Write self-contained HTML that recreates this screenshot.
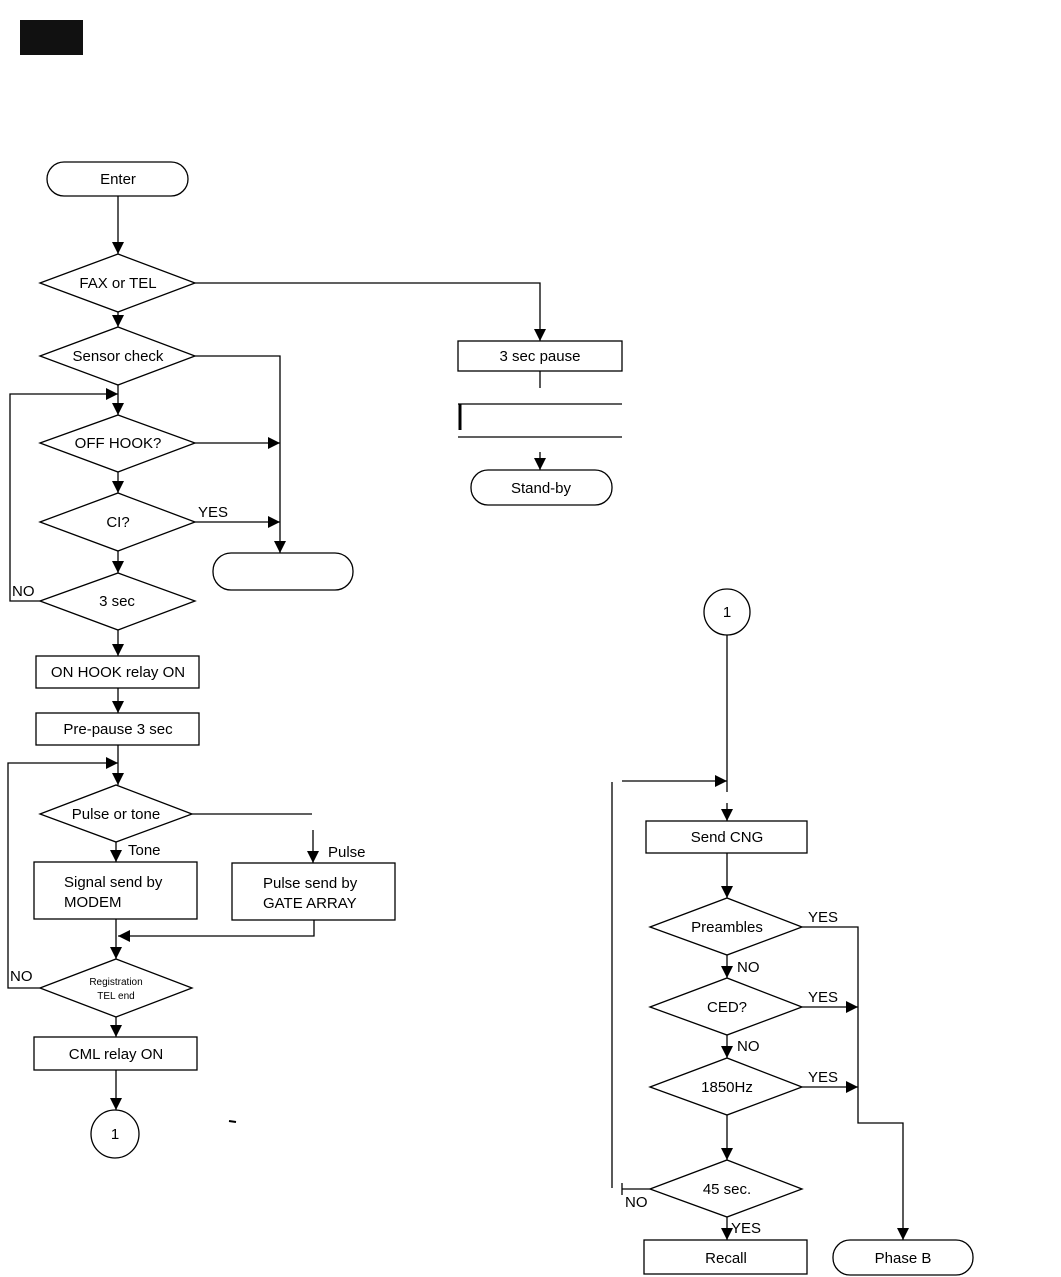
<!DOCTYPE html>
<html><head><meta charset="utf-8"><style>
html,body{margin:0;padding:0;background:#fff;}
svg{display:block;}
text{font-family:"Liberation Sans",Arial,sans-serif;font-size:15px;fill:#000;}
</style></head><body>
<svg width="1061" height="1277" viewBox="0 0 1061 1277" xmlns="http://www.w3.org/2000/svg">
<defs><marker id="a" markerWidth="12" markerHeight="12" refX="12" refY="6" orient="auto" markerUnits="userSpaceOnUse"><path d="M0,0 L12,6 L0,12 z" fill="#000"/></marker></defs>
<g stroke="#000" stroke-width="1.3" fill="none">
<rect x="20" y="20" width="63" height="35" fill="#111" stroke="none"/>
<rect x="47" y="162" width="141" height="34" rx="17"/>
<line x1="118" y1="196" x2="118" y2="254" marker-end="url(#a)"/>
<polygon points="40,283 118,254 195,283 118,312"/>
<polyline points="195,283 540,283 540,341" marker-end="url(#a)"/>
<rect x="458" y="341" width="164" height="30"/>
<line x1="540" y1="371" x2="540" y2="388"/>
<line x1="458" y1="404" x2="622" y2="404"/>
<line x1="458" y1="437" x2="622" y2="437"/>
<line x1="460" y1="404" x2="460" y2="430" stroke-width="3"/>
<line x1="540" y1="452" x2="540" y2="470" marker-end="url(#a)"/>
<rect x="471" y="470" width="141" height="35" rx="17"/>
<line x1="118" y1="312" x2="118" y2="327" marker-end="url(#a)"/>
<polygon points="40,356 118,327 195,356 118,385"/>
<polyline points="195,356 280,356 280,553" marker-end="url(#a)"/>
<rect x="213" y="553" width="140" height="37" rx="18"/>
<line x1="118" y1="385" x2="118" y2="415" marker-end="url(#a)"/>
<polyline points="40,601 10,601 10,394 118,394" marker-end="url(#a)"/>
<polygon points="40,443 118,415 195,443 118,472"/>
<line x1="195" y1="443" x2="280" y2="443" marker-end="url(#a)"/>
<line x1="118" y1="472" x2="118" y2="493" marker-end="url(#a)"/>
<polygon points="40,522 118,493 195,522 118,551"/>
<line x1="195" y1="522" x2="280" y2="522" marker-end="url(#a)"/>
<line x1="118" y1="551" x2="118" y2="573" marker-end="url(#a)"/>
<polygon points="40,601 118,573 195,601 118,630"/>
<line x1="118" y1="630" x2="118" y2="656" marker-end="url(#a)"/>
<rect x="36" y="656" width="163" height="32"/>
<line x1="118" y1="688" x2="118" y2="713" marker-end="url(#a)"/>
<rect x="36" y="713" width="163" height="32"/>
<line x1="118" y1="745" x2="118" y2="785" marker-end="url(#a)"/>
<polyline points="40,988 8,988 8,763 118,763" marker-end="url(#a)"/>
<polygon points="40,814 116,785 192,814 116,842"/>
<line x1="192" y1="814" x2="312" y2="814"/>
<line x1="313" y1="830" x2="313" y2="863" marker-end="url(#a)"/>
<line x1="116" y1="842" x2="116" y2="862" marker-end="url(#a)"/>
<rect x="34" y="862" width="163" height="57"/>
<rect x="232" y="863" width="163" height="57"/>
<polyline points="314,920 314,936 118,936" marker-end="url(#a)"/>
<line x1="116" y1="919" x2="116" y2="959" marker-end="url(#a)"/>
<polygon points="40,988 116,959 192,988 116,1017"/>
<line x1="116" y1="1017" x2="116" y2="1037" marker-end="url(#a)"/>
<rect x="34" y="1037" width="163" height="33"/>
<line x1="116" y1="1070" x2="116" y2="1110" marker-end="url(#a)"/>
<circle cx="115" cy="1134" r="24"/>
<line x1="229" y1="1121" x2="236" y2="1122" stroke-width="2"/>
<circle cx="727" cy="612" r="23"/>
<line x1="727" y1="635" x2="727" y2="792"/>
<line x1="622" y1="781" x2="727" y2="781" marker-end="url(#a)"/>
<line x1="612" y1="782" x2="612" y2="1188"/>
<line x1="727" y1="803" x2="727" y2="821" marker-end="url(#a)"/>
<rect x="646" y="821" width="161" height="32"/>
<line x1="727" y1="853" x2="727" y2="898" marker-end="url(#a)"/>
<polygon points="650,927 727,898 802,927 727,955"/>
<polyline points="802,927 858,927 858,1123 903,1123 903,1240" marker-end="url(#a)"/>
<line x1="727" y1="955" x2="727" y2="978" marker-end="url(#a)"/>
<polygon points="650,1007 727,978 802,1007 727,1035"/>
<line x1="802" y1="1007" x2="858" y2="1007" marker-end="url(#a)"/>
<line x1="727" y1="1035" x2="727" y2="1058" marker-end="url(#a)"/>
<polygon points="650,1087 727,1058 802,1087 727,1115"/>
<line x1="802" y1="1087" x2="858" y2="1087" marker-end="url(#a)"/>
<line x1="727" y1="1115" x2="727" y2="1160" marker-end="url(#a)"/>
<polygon points="650,1189 727,1160 802,1189 727,1217"/>
<line x1="650" y1="1189" x2="622" y2="1189"/>
<line x1="622" y1="1183" x2="622" y2="1195"/>
<line x1="727" y1="1217" x2="727" y2="1240" marker-end="url(#a)"/>
<rect x="644" y="1240" width="163" height="34"/>
<rect x="833" y="1240" width="140" height="35" rx="17"/>
</g>
<g text-anchor="middle">
<text x="118" y="184">Enter</text>
<text x="118" y="288">FAX or TEL</text>
<text x="540" y="361">3 sec pause</text>
<text x="541" y="493">Stand-by</text>
<text x="118" y="361">Sensor check</text>
<text x="118" y="448">OFF HOOK?</text>
<text x="118" y="527">CI?</text>
<text x="117" y="606">3 sec</text>
<text x="118" y="677">ON HOOK relay ON</text>
<text x="118" y="734">Pre-pause 3 sec</text>
<text x="116" y="819">Pulse or tone</text>
<text x="116" y="985" style="font-size:10px">Registration</text>
<text x="116" y="999" style="font-size:10px">TEL end</text>
<text x="116" y="1059">CML relay ON</text>
<text x="115" y="1139">1</text>
<text x="727" y="617">1</text>
<text x="727" y="842">Send CNG</text>
<text x="727" y="932">Preambles</text>
<text x="727" y="1012">CED?</text>
<text x="727" y="1092">1850Hz</text>
<text x="727" y="1194">45 sec.</text>
<text x="726" y="1263">Recall</text>
<text x="903" y="1263">Phase B</text>
</g>
<g>
<text x="198" y="517">YES</text>
<text x="12" y="596">NO</text>
<text x="128" y="855">Tone</text>
<text x="328" y="857">Pulse</text>
<text x="64" y="887">Signal send by</text>
<text x="64" y="907">MODEM</text>
<text x="263" y="888">Pulse send by</text>
<text x="263" y="908">GATE ARRAY</text>
<text x="10" y="981">NO</text>
<text x="808" y="922">YES</text>
<text x="737" y="972">NO</text>
<text x="808" y="1002">YES</text>
<text x="737" y="1051">NO</text>
<text x="808" y="1082">YES</text>
<text x="625" y="1207">NO</text>
<text x="731" y="1233">YES</text>
</g>
</svg>
</body></html>
